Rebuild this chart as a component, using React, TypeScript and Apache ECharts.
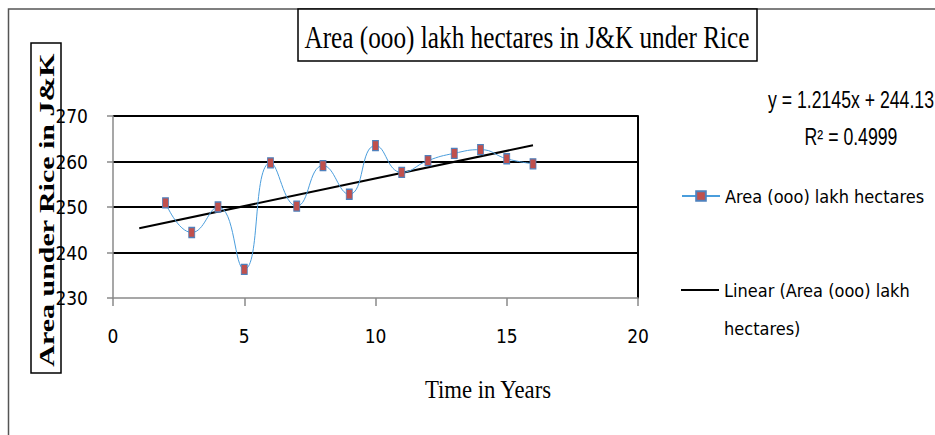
import React, { useEffect, useRef } from "react";
import * as echarts from "echarts";

const chartTitle = "Area (ooo) lakh hectares in J&K under Rice";
const xAxisTitle = "Time in Years";
const yAxisTitle = "Area under Rice in J&K";
const seriesName = "Area (ooo) lakh hectares";
const trendName = "Linear (Area (ooo) lakh hectares)";
const trendLabelLines = ["y = 1.2145x + 244.13", "R\u00b2 = 0.4999"];

const years = [2, 3, 4, 5, 6, 7, 8, 9, 10, 11, 12, 13, 14, 15, 16];
const areaValues = [250.9, 244.4, 250.0, 236.3, 259.7, 250.2, 259.1, 252.8, 263.5, 257.6, 260.2, 261.8, 262.6, 260.6, 259.5];
const trendSlope = 1.2145;
const trendIntercept = 244.13;
const trendXs = [1, 16];
const xRange = [0, 20];
const xStep = 5;
const yRange = [230, 270];
const yStep = 10;

const narrow = "'Liberation Sans Narrow', 'DejaVu Sans Condensed', 'Liberation Sans', sans-serif";
const serif = "'Liberation Serif', 'DejaVu Serif', serif";

function measure(text: string, font: string): number {
  const c = document.createElement("canvas");
  const ctx = c.getContext("2d");
  if (!ctx) return 1;
  ctx.font = font;
  return ctx.measureText(text).width || 1;
}

export default function App() {
  const ref = useRef<HTMLDivElement | null>(null);
  useEffect(() => {
    if (!ref.current) return;
    const chart = echarts.init(ref.current, null, { renderer: "svg" });
    const seriesData = years.map((x, i) => [x, areaValues[i]]);
    const trendData = trendXs.map((x) => [x, trendSlope * x + trendIntercept]);

    const titleFont = `32px ${serif}`;
    const titleScale = 445 / measure(chartTitle, titleFont);
    const xTitleFont = `26px ${serif}`;
    const xTitleScale = 127 / measure(xAxisTitle, xTitleFont);
    const yTitleFont = `bold 22px ${serif}`;
    const yTitleScale = 314 / measure(yAxisTitle, yTitleFont);
    const eqFont = `23px 'Liberation Sans', sans-serif`;
    const eqScale = 166 / measure(trendLabelLines[0], eqFont);

    chart.setOption({
      animation: false,
      backgroundColor: "#ffffff",
      grid: { left: 113, right: 297, top: 116, bottom: 137, containLabel: false },
      xAxis: {
        type: "value",
        min: xRange[0],
        max: xRange[1],
        interval: xStep,
        axisLine: { show: true, lineStyle: { color: "#8a8a8a", width: 1.5 } },
        axisTick: { show: true, length: 8, lineStyle: { color: "#8a8a8a", width: 1.5 } },
        axisLabel: { color: "#000", fontFamily: narrow, fontSize: 19, margin: 28 },
        splitLine: { show: false },
      },
      yAxis: [
        {
          type: "value",
          min: yRange[0],
          max: yRange[1],
          interval: yStep,
          axisLine: { show: true, lineStyle: { color: "#8a8a8a", width: 1.5 } },
          axisTick: { show: true, length: 6, lineStyle: { color: "#8a8a8a", width: 1.5 } },
          axisLabel: { color: "#000", fontFamily: narrow, fontSize: 19, margin: 25 },
          splitLine: { show: true, showMinLine: false, lineStyle: { color: "#000", width: 2 } },
        },
        {
          type: "value",
          position: "right",
          min: yRange[0],
          max: yRange[1],
          interval: yStep,
          axisLine: { show: true, lineStyle: { color: "#000", width: 2 } },
          axisTick: { show: false },
          axisLabel: { show: false },
          splitLine: { show: false },
        },
      ],
      legend: [
        {
          data: [seriesName],
          left: 681,
          top: 185,
          orient: "vertical",
          padding: 0,
          itemWidth: 38,
          itemHeight: 12,
          textStyle: { color: "#000", fontFamily: narrow, fontSize: 18, lineHeight: 22 },
        },
        {
          data: [{ name: trendName, icon: "rect" }],
          left: 681,
          top: 233,
          orient: "vertical",
          padding: 0,
          itemWidth: 38,
          itemHeight: 2,
          itemStyle: { color: "#000" },
          formatter: () => "\nLinear (Area (ooo) lakh\nhectares)",
          textStyle: { color: "#000", fontFamily: narrow, fontSize: 18, lineHeight: 38 },
        },
      ],
      series: [
        {
          name: seriesName,
          type: "line",
          data: seriesData,
          smooth: 0.5,
          symbol: "rect",
          symbolSize: [6, 10],
          lineStyle: { color: "#4a9ddc", width: 1 },
          itemStyle: { color: "#c0504d", borderColor: "#4f81bd", borderWidth: 1 },
          z: 3,
        },
        {
          name: trendName,
          type: "line",
          data: trendData,
          symbol: "none",
          lineStyle: { color: "#000", width: 2 },
          itemStyle: { color: "#000" },
          z: 2,
        },
      ],
      graphic: [
        {
          type: "rect",
          shape: { x: 8.5, y: 9, width: 1000, height: 1000 },
          style: { fill: "none", stroke: "#555", lineWidth: 1.5 },
          silent: true,
        },
        {
          type: "rect",
          shape: { x: 298, y: 9, width: 459, height: 52 },
          style: { fill: "#fff", stroke: "#000", lineWidth: 1.5 },
          silent: true,
        },
        {
          type: "text",
          x: 527,
          y: 37,
          scaleX: titleScale,
          style: { text: chartTitle, fill: "#000", font: titleFont, align: "center", verticalAlign: "middle" },
        },
        {
          type: "rect",
          shape: { x: 31, y: 43, width: 30, height: 330 },
          style: { fill: "#fff", stroke: "#000", lineWidth: 1.5 },
          silent: true,
        },
        {
          type: "text",
          x: 47,
          y: 210,
          rotation: Math.PI / 2,
          scaleX: yTitleScale,
          style: { text: yAxisTitle, fill: "#000", font: yTitleFont, align: "center", verticalAlign: "middle" },
        },
        {
          type: "text",
          x: 488,
          y: 389,
          scaleX: xTitleScale,
          style: { text: xAxisTitle, fill: "#000", font: xTitleFont, align: "center", verticalAlign: "middle" },
        },
        {
          type: "text",
          x: 851,
          y: 118,
          scaleX: eqScale,
          style: { text: trendLabelLines.join("\n"), fill: "#000", font: eqFont, lineHeight: 37, align: "center", verticalAlign: "middle" },
        },
      ],
    });
    return () => chart.dispose();
  }, []);
  return <div ref={ref} style={{ position: "fixed", left: 0, top: 0, width: 935, height: 435, background: "#fff" }} />;
}
